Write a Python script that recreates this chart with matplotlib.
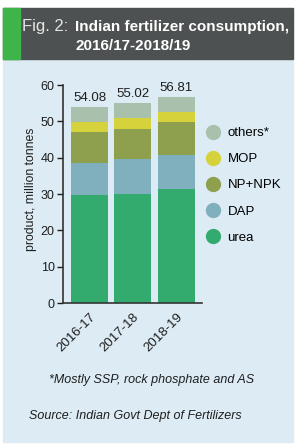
import matplotlib
matplotlib.use("Agg")
import matplotlib.pyplot as plt
import numpy as np
from matplotlib.lines import Line2D
from matplotlib.patches import Rectangle

plt.rcParams["font.family"] = ["Liberation Sans Narrow", "Liberation Sans", "DejaVu Sans"]

YEARS = ["2016-17", "2017-18", "2018-19"]
SERIES = ["urea", "DAP", "NP+NPK", "MOP", "others*"]
UREA = [29.7, 30.0, 31.4]
DAP = [8.9, 9.5, 9.4]
NPK = [8.5, 8.4, 9.1]
MOP = [2.8, 3.1, 2.7]
OTHERS = [4.18, 4.02, 4.21]
TOTALS = [54.08, 55.02, 56.81]

COLORS = ["#33ab6e", "#80b0be", "#8e9f4e", "#d6d23c", "#a9c0ad"]
BG = "#dcebf4"
TEXT = "#1e1e1e"

fig = plt.figure(figsize=(2.98, 4.44), dpi=100)
W, H = 298, 444

# panel backgrounds
fig.patches.append(Rectangle((3 / W, 1 - 442 / H), 290 / W, 382 / H,
                             transform=fig.transFigure, color=BG, zorder=-2))
fig.patches.append(Rectangle((3 / W, 1 - 59 / H), 290 / W, 51 / H,
                             transform=fig.transFigure, color="#4e5151", zorder=-2))
fig.patches.append(Rectangle((3 / W, 1 - 59 / H), 17 / W, 51 / H,
                             transform=fig.transFigure, color="#3eb54b", zorder=-1))

fig.text(22 / W, 1 - 27 / H, "Fig. 2: ", color="#e6e6e6", fontsize=12, va="center", ha="left")
fig.text(75 / W, 1 - 27 / H, "Indian fertilizer consumption,", color="white",
         fontsize=11, fontweight="bold", va="center", ha="left")
fig.text(75 / W, 1 - 46 / H, "2016/17-2018/19", color="white",
         fontsize=11, fontweight="bold", va="center", ha="left")

ax = fig.add_axes([63 / W, 1 - 303 / H, 139 / W, 218 / H])
ax.set_facecolor("none")
x = np.arange(len(YEARS))
bottom = np.zeros(len(YEARS))
for vals, col in zip([UREA, DAP, NPK, MOP, OTHERS], COLORS):
    ax.bar(x, vals, width=0.85, bottom=bottom, color=col, linewidth=0)
    bottom += np.array(vals)

for xi, tot in zip(x, TOTALS):
    ax.text(xi, tot + 0.8, f"{tot:.2f}", ha="center", va="bottom", fontsize=9.5, color=TEXT)

ax.set_xlim(-0.61, 2.59)
ax.set_ylim(0, 60)
ax.set_yticks(range(0, 61, 10))
ax.set_xticks(x)
ax.set_xticklabels(YEARS, rotation=45, ha="right", rotation_mode="anchor", fontsize=9.5, color=TEXT)
ax.tick_params(axis="y", labelsize=9, colors=TEXT, length=4, width=1, pad=2)
ax.tick_params(axis="x", length=0, pad=6)
ax.spines[["top", "right"]].set_visible(False)
for s in ["left", "bottom"]:
    ax.spines[s].set_color("#333333")
    ax.spines[s].set_linewidth(1.2)
ax.set_ylabel("product, million tonnes", fontsize=8.8, color=TEXT)
ax.yaxis.set_label_coords(-0.185, 0.52)

handles = [Line2D([], [], marker="o", linestyle="none", markersize=11,
                  markerfacecolor=c, markeredgecolor="none") for c in COLORS[::-1]]
fig.legend(handles, SERIES[::-1], loc="upper left", bbox_to_anchor=(205 / W, 1 - 127 / H),
           frameon=False, fontsize=9.5, labelspacing=1.05, handletextpad=0.5, handlelength=1.2,
           borderaxespad=0, borderpad=0)

fig.text(152 / W, 1 - 380 / H, "*Mostly SSP, rock phosphate and AS", fontsize=9,
         style="italic", ha="center", va="center", color=TEXT)
fig.text(29 / W, 1 - 416 / H, "Source: Indian Govt Dept of Fertilizers", fontsize=9,
         style="italic", ha="left", va="center", color=TEXT)

fig.savefig("out.png", dpi=100)
